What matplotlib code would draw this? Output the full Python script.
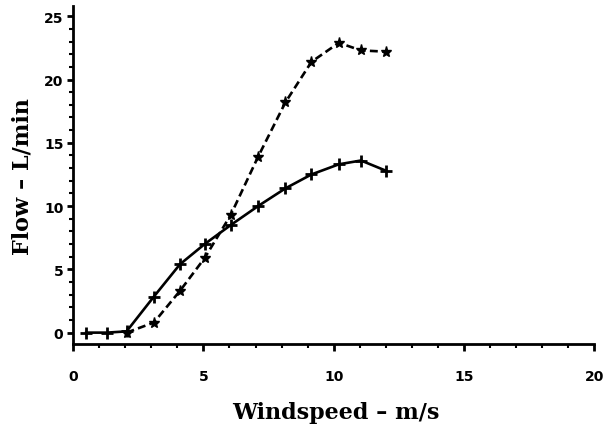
import matplotlib.pyplot as plt
from matplotlib.ticker import MultipleLocator

# windspeed (m/s) and flow (L/min)
wind = [0.5, 1.3, 2.05, 3.1, 4.1, 5.05, 6.05, 7.1, 8.15, 9.15, 10.2, 11.05, 12.0]
flow_solid = [0, 0, 0.1, 2.85, 5.4, 7.0, 8.5, 10.0, 11.4, 12.5, 13.3, 13.6, 12.8]
wind_dashed = [2.05, 3.1, 4.1, 5.05, 6.05, 7.1, 8.15, 9.15, 10.2, 11.05, 12.0]
flow_dashed = [0, 0.8, 3.3, 5.9, 9.3, 13.9, 18.2, 21.4, 22.9, 22.3, 22.2]

x_ticks = [0, 5, 10, 15, 20]
y_ticks = [0, 5, 10, 15, 20, 25]

fig = plt.figure(figsize=(6.15, 4.31), dpi=100)
ax = fig.add_axes([0.119, 0.1995, 0.847, 0.784])

ax.plot(wind_dashed, flow_dashed, color='black', lw=1.9, ls=(0, (3, 1.6)),
        marker='*', ms=8, mew=1)
ax.plot(wind, flow_solid, color='black', lw=1.9, ls='-',
        marker='+', ms=8, mew=2)

ax.set_xlim(0, 20)
ax.set_ylim(-0.9, 25.8)
ax.set_xticks(x_ticks)
ax.set_yticks(y_ticks)
ax.xaxis.set_minor_locator(MultipleLocator(1))
ax.yaxis.set_minor_locator(MultipleLocator(1))

for side in ['top', 'right']:
    ax.spines[side].set_visible(False)
for side in ['left', 'bottom']:
    ax.spines[side].set_linewidth(2)

ax.tick_params(which='major', width=2, labelsize=10)
ax.tick_params(which='minor', length=3, width=1.5)
ax.tick_params(axis='x', which='major', length=5, pad=13)
ax.tick_params(axis='y', which='major', length=4, pad=3)
for lab in ax.get_xticklabels() + ax.get_yticklabels():
    lab.set_fontweight('bold')

ax.set_xlabel('Windspeed – m/s', fontsize=16, fontweight='bold',
              family='DejaVu Serif')
ax.set_ylabel('Flow – L/min', fontsize=16, fontweight='bold',
              family='DejaVu Serif')
ax.xaxis.set_label_coords(0.5044, -0.2)
ax.xaxis.label.set_verticalalignment('center')
ax.yaxis.set_label_coords(-0.098, 0.5)
ax.yaxis.label.set_verticalalignment('center')

fig.savefig('out.png', dpi=100)
